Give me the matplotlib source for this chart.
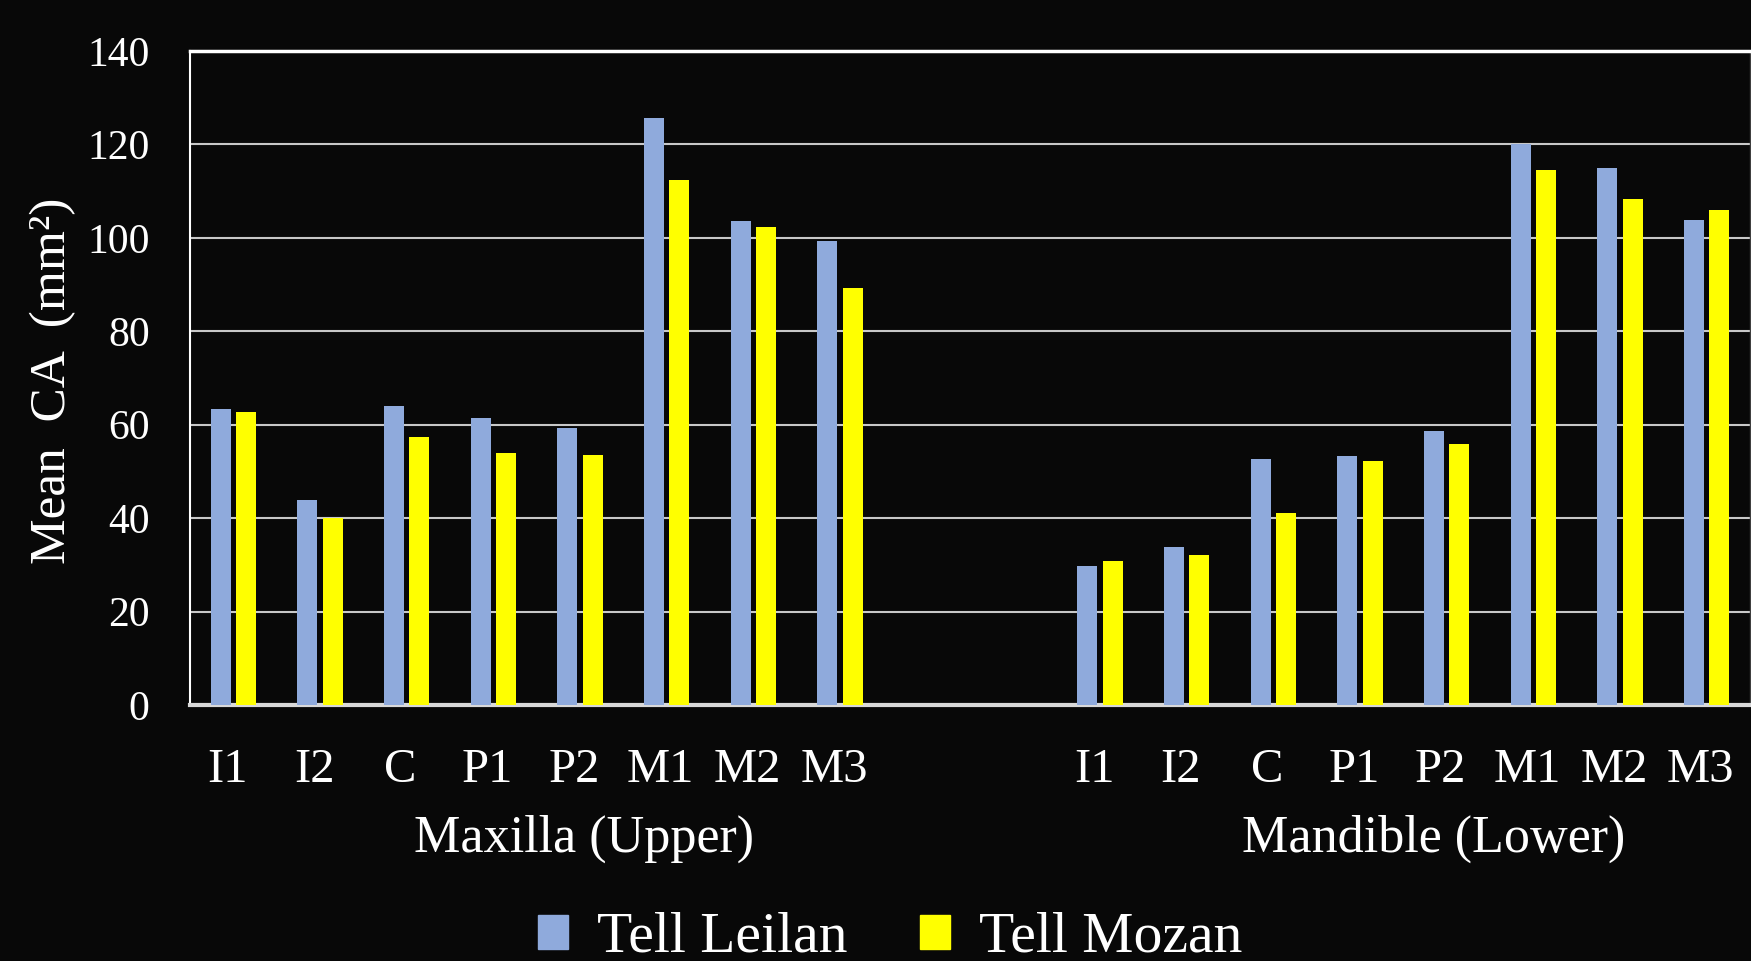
"""Mean crown area per tooth, Tell Leilan vs Tell Mozan, upper and lower jaw."""

import matplotlib

matplotlib.use("Agg")
import matplotlib.pyplot as plt
import matplotlib.transforms as mtransforms
import numpy as np
from matplotlib.patches import Patch

# --- palette (dark slide look) ---
BG = "#080808"
INK = "#FFFFFF"
GRID = "#C8C8C8"
LEILAN = "#8FAADC"
MOZAN = "#FFFF00"

# --- data ---
teeth = ["I1", "I2", "C", "P1", "P2", "M1", "M2", "M3"]
groups = ["Maxilla (Upper)", "Mandible (Lower)"]
series = ["Tell Leilan", "Tell Mozan"]

upper_leilan = [63.4, 43.9, 64.0, 61.4, 59.4, 125.6, 103.6, 99.3]
upper_mozan = [62.7, 40.0, 57.3, 53.9, 53.6, 112.3, 102.4, 89.2]
lower_leilan = [29.7, 33.9, 52.6, 53.3, 58.6, 120.0, 115.0, 103.8]
lower_mozan = [30.9, 32.2, 41.1, 52.2, 55.9, 114.5, 108.3, 106.0]

yticks = [0, 20, 40, 60, 80, 100, 120, 140]

plt.rcParams["font.family"] = ["Liberation Serif", "DejaVu Serif"]

W, H = 1751, 961
fig = plt.figure(figsize=(W / 100, H / 100), dpi=100, facecolor=BG)
ax = fig.add_axes([190 / W, 256 / H, 1560 / W, 654 / H], facecolor=BG)

# two empty category slots separate the jaws
upper_x = np.arange(len(teeth))
lower_x = upper_x + len(teeth) + 2
x = np.concatenate([upper_x, lower_x])
leilan = upper_leilan + lower_leilan
mozan = upper_mozan + lower_mozan

bw, off = 0.23, 0.145
ax.bar(x - off, leilan, bw, color=LEILAN, zorder=3)
ax.bar(x + off, mozan, bw, color=MOZAN, zorder=3)

ax.set_xlim(-0.5, lower_x[-1] + 0.5)
ax.set_ylim(0, 140)
ax.set_yticks(yticks)
ax.grid(axis="y", color=GRID, linewidth=1.5, zorder=0)
ax.set_axisbelow(True)

ax.set_xticks(x)
ax.set_xticklabels(teeth * 2)
ax.tick_params(axis="x", length=0, pad=31, labelsize=35, labelcolor=INK)
ax.tick_params(axis="y", length=0, pad=29, labelsize=30, labelcolor=INK)
# tooth labels sit a touch left of the slot centre in the original
nudge = mtransforms.ScaledTranslation(-6 / 100, 0, fig.dpi_scale_trans)
for lbl in ax.get_xticklabels():
    lbl.set_transform(lbl.get_transform() + nudge)

# chrome
ax.spines["top"].set_color(INK)
ax.spines["top"].set_linewidth(2.5)
ax.spines["left"].set_color(INK)
ax.spines["left"].set_linewidth(1.5)
ax.spines["bottom"].set_color("#D9D9D9")
ax.spines["bottom"].set_linewidth(3)
ax.spines["right"].set_color("#404040")
ax.spines["right"].set_linewidth(1)

# jaw labels under the tooth labels
group_x = [4.05, 13.85]
for gx, name in zip(group_x, groups):
    ax.text(gx, -0.2248, name, transform=ax.get_xaxis_transform(),
            ha="center", va="baseline", fontsize=37.5, color=INK)

fig.text(53 / W, 1 - 381 / H, "Mean  CA  (mm²)", rotation=90,
         ha="center", va="center", fontsize=37, color=INK)

handles = [Patch(color=LEILAN), Patch(color=MOZAN)]
fig.legend(handles, series, loc="center", bbox_to_anchor=(890 / W, 1 - 938 / H),
           ncol=2, frameon=False, fontsize=41.5, handlelength=0.53,
           handleheight=0.53, handletextpad=0.5, columnspacing=1.25,
           borderpad=0, labelcolor=INK)

fig.savefig("out.png", dpi=100, facecolor=BG)
